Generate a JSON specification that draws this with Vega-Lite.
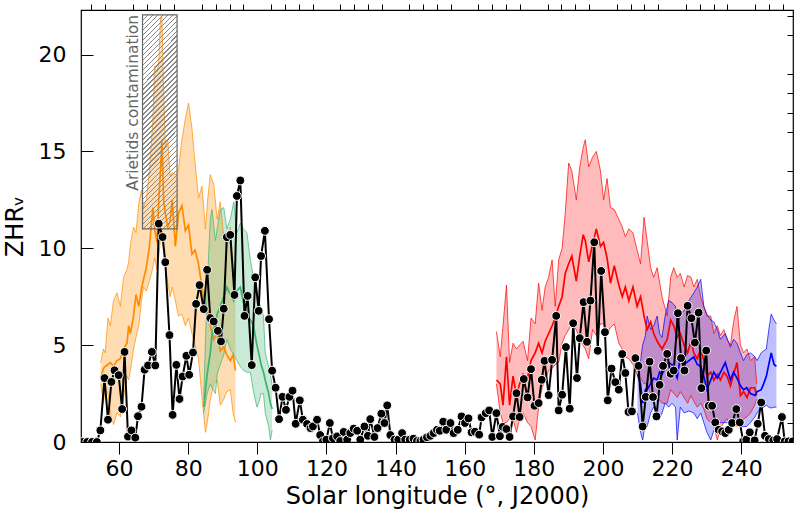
{
  "$schema": "https://vega.github.io/schema/vega-lite/v6.json",
  "width": 712,
  "height": 432,
  "autosize": "none",
  "padding": {"left": 81, "top": 10, "right": 7, "bottom": 78},
  "datasets": {
    "obs": [
      {"lon":49.4,"zhr":0},{"lon":50.8,"zhr":0},{"lon":52.2,"zhr":0},{"lon":53.6,"zhr":0},{"lon":54.6,"zhr":0.6},
      {"lon":55.8,"zhr":3.3},{"lon":56.8,"zhr":1.15},{"lon":57.8,"zhr":3.1},{"lon":58.7,"zhr":3.7},{"lon":59.9,"zhr":3.45},
      {"lon":60.9,"zhr":1.7},{"lon":61.6,"zhr":4.65},{"lon":62.6,"zhr":0.28},{"lon":63.6,"zhr":0.6},{"lon":64.7,"zhr":0.22},
      {"lon":65.5,"zhr":1.33},{"lon":66.5,"zhr":1.82},{"lon":67.4,"zhr":3.73},{"lon":68.4,"zhr":3.95},{"lon":69.5,"zhr":4.65},
      {"lon":70.5,"zhr":3.95},{"lon":71.5,"zhr":11.27},{"lon":72.6,"zhr":10.58},{"lon":73.4,"zhr":9.28},{"lon":74.6,"zhr":5.52},
      {"lon":75.5,"zhr":1.4},{"lon":76.6,"zhr":3.98},{"lon":77.5,"zhr":2.22},{"lon":78.4,"zhr":3.38},{"lon":79.5,"zhr":4.45},
      {"lon":80.3,"zhr":3.47},{"lon":81.4,"zhr":4.62},{"lon":82.3,"zhr":7.13},{"lon":83.3,"zhr":8.1},{"lon":84.5,"zhr":6.86},
      {"lon":85.5,"zhr":8.89},{"lon":86.4,"zhr":6.4},{"lon":87.4,"zhr":6.22},{"lon":88.6,"zhr":5.74},{"lon":89.5,"zhr":5.19},
      {"lon":90.3,"zhr":6.88},{"lon":91.2,"zhr":10.57},{"lon":92.2,"zhr":10.69},{"lon":93.4,"zhr":7.59},{"lon":94.1,"zhr":12.7},
      {"lon":95.1,"zhr":13.5},{"lon":96.3,"zhr":6.51},{"lon":97.2,"zhr":7.54},{"lon":98.4,"zhr":3.97},{"lon":99.4,"zhr":8.5},
      {"lon":100.4,"zhr":6.77},{"lon":101.1,"zhr":9.6},{"lon":102.2,"zhr":10.9},{"lon":103.4,"zhr":6.34},{"lon":104.3,"zhr":3.68},
      {"lon":105.3,"zhr":2.8},{"lon":106.3,"zhr":1.18},{"lon":107.3,"zhr":2.33},{"lon":108.3,"zhr":1.66},{"lon":109.3,"zhr":2.33},
      {"lon":110.2,"zhr":2.65},{"lon":111.1,"zhr":0.94},{"lon":112.3,"zhr":2.15},{"lon":113.2,"zhr":1.15},{"lon":114.4,"zhr":0.93},
      {"lon":115.4,"zhr":0.72},{"lon":116.1,"zhr":0.8},{"lon":117.3,"zhr":1.15},{"lon":118.2,"zhr":0.36},{"lon":119.0,"zhr":0.03},
      {"lon":120.0,"zhr":0.12},{"lon":121.0,"zhr":0.98},{"lon":121.9,"zhr":0.19},{"lon":123.1,"zhr":0.29},{"lon":124.0,"zhr":0.05},
      {"lon":125.0,"zhr":0.52},{"lon":126.0,"zhr":0.12},{"lon":126.9,"zhr":0.46},{"lon":127.9,"zhr":0.69},{"lon":128.9,"zhr":0.58},
      {"lon":129.8,"zhr":0.12},{"lon":131.0,"zhr":0.8},{"lon":132.0,"zhr":0.32},{"lon":132.7,"zhr":1.18},{"lon":133.9,"zhr":0.26},
      {"lon":134.8,"zhr":0.72},{"lon":135.9,"zhr":1.46},{"lon":136.8,"zhr":0.98},{"lon":137.6,"zhr":1.89},{"lon":138.5,"zhr":0.36},
      {"lon":139.7,"zhr":0.12},{"lon":140.8,"zhr":0.12},{"lon":141.9,"zhr":0.46},{"lon":142.8,"zhr":0.12},{"lon":144.1,"zhr":0.12},
      {"lon":145.2,"zhr":0.17},{"lon":146.2,"zhr":0.05},{"lon":147.2,"zhr":0.05},{"lon":148.1,"zhr":0.12},{"lon":149.1,"zhr":0.24},
      {"lon":150.1,"zhr":0.32},{"lon":151.0,"zhr":0.46},{"lon":152.0,"zhr":0.63},{"lon":152.8,"zhr":0.58},{"lon":153.8,"zhr":1.05},
      {"lon":154.7,"zhr":0.63},{"lon":155.9,"zhr":0.98},{"lon":156.8,"zhr":0.46},{"lon":158.0,"zhr":0.63},{"lon":159.1,"zhr":1.32},
      {"lon":160.1,"zhr":0.98},{"lon":161.1,"zhr":1.22},{"lon":162.0,"zhr":0.5},{"lon":163.0,"zhr":0.53},{"lon":164.2,"zhr":0.38},
      {"lon":164.9,"zhr":1.27},{"lon":166.1,"zhr":1.49},{"lon":167.1,"zhr":1.63},{"lon":168.0,"zhr":0.26},{"lon":169.2,"zhr":1.49},
      {"lon":170.2,"zhr":0.3},{"lon":171.0,"zhr":0.78},{"lon":172.1,"zhr":0.67},{"lon":173.0,"zhr":0.26},{"lon":174.0,"zhr":1.32},
      {"lon":175.0,"zhr":2.52},{"lon":175.9,"zhr":1.29},{"lon":177.1,"zhr":3.25},{"lon":178.2,"zhr":2.3},{"lon":179.2,"zhr":3.76},
      {"lon":180.2,"zhr":1.87},{"lon":181.4,"zhr":2.01},{"lon":182.3,"zhr":3.21},{"lon":183.1,"zhr":4.19},{"lon":184.3,"zhr":2.42},
      {"lon":185.3,"zhr":4.24},{"lon":186.5,"zhr":6.51},{"lon":187.2,"zhr":1.63},{"lon":188.2,"zhr":2.44},{"lon":189.3,"zhr":4.9},
      {"lon":190.4,"zhr":1.72},{"lon":191.4,"zhr":6.13},{"lon":192.5,"zhr":3.3},{"lon":193.3,"zhr":5.36},{"lon":194.4,"zhr":7.22},
      {"lon":195.4,"zhr":5.17},{"lon":196.4,"zhr":7.3},{"lon":197.5,"zhr":10.31},{"lon":198.5,"zhr":4.71},{"lon":199.5,"zhr":8.83},
      {"lon":200.6,"zhr":5.67},{"lon":201.4,"zhr":2.15},{"lon":202.5,"zhr":3.79},{"lon":203.6,"zhr":3.09},{"lon":204.6,"zhr":2.7},
      {"lon":205.6,"zhr":4.54},{"lon":206.5,"zhr":3.56},{"lon":207.4,"zhr":1.55},{"lon":208.4,"zhr":1.58},{"lon":209.4,"zhr":4.33},
      {"lon":210.3,"zhr":3.93},{"lon":211.5,"zhr":0.8},{"lon":212.4,"zhr":2.33},{"lon":213.5,"zhr":4.15},{"lon":214.5,"zhr":2.32},
      {"lon":215.5,"zhr":1.32},{"lon":216.4,"zhr":2.95},{"lon":217.4,"zhr":3.93},{"lon":218.6,"zhr":4.55},{"lon":219.6,"zhr":3.52},
      {"lon":220.5,"zhr":3.69},{"lon":221.7,"zhr":6.65},{"lon":222.6,"zhr":4.33},{"lon":223.6,"zhr":3.69},{"lon":224.5,"zhr":7.03},
      {"lon":225.6,"zhr":6.39},{"lon":226.6,"zhr":5.13},{"lon":227.7,"zhr":6.68},{"lon":228.5,"zhr":2.78},{"lon":229.9,"zhr":4.72},
      {"lon":230.6,"zhr":1.87},{"lon":231.6,"zhr":1.87},{"lon":232.5,"zhr":1.01},{"lon":233.5,"zhr":0.63},{"lon":234.5,"zhr":0.55},
      {"lon":235.4,"zhr":0.46},{"lon":236.4,"zhr":0.63},{"lon":237.4,"zhr":0.98},{"lon":238.6,"zhr":1.7},{"lon":239.6,"zhr":1.01},
      {"lon":240.6,"zhr":0.03},{"lon":241.5,"zhr":0.12},{"lon":242.5,"zhr":0.5},{"lon":243.9,"zhr":0.08},{"lon":244.8,"zhr":0.94},
      {"lon":245.8,"zhr":2.04},{"lon":246.9,"zhr":0.32},{"lon":248.0,"zhr":0.15},{"lon":249.3,"zhr":0.08},{"lon":250.4,"zhr":0.15},
      {"lon":251.8,"zhr":1.29},{"lon":252.6,"zhr":0.03},{"lon":253.7,"zhr":0.03},{"lon":254.9,"zhr":0.03}
    ],
    "bands": [
      {"s":"orange","lon":54.7,"zhr":3.3,"lo":3.0,"hi":4.1},{"s":"orange","lon":55.5,"zhr":3.8,"lo":2.0,"hi":4.8},
      {"s":"orange","lon":56.0,"zhr":3.9,"lo":2.8,"hi":4.6},{"s":"orange","lon":56.8,"zhr":4.0,"lo":2.5,"hi":6.4},
      {"s":"orange","lon":57.5,"zhr":4.1,"lo":1.5,"hi":6.0},{"s":"orange","lon":58.4,"zhr":3.9,"lo":0.9,"hi":7.3},
      {"s":"orange","lon":59.4,"zhr":4.2,"lo":1.5,"hi":7.7},{"s":"orange","lon":60.4,"zhr":4.3,"lo":1.3,"hi":7.0},
      {"s":"orange","lon":61.3,"zhr":4.8,"lo":2.3,"hi":8.5},{"s":"orange","lon":62.3,"zhr":5.1,"lo":3.4,"hi":8.9},
      {"s":"orange","lon":62.8,"zhr":6.0,"lo":3.2,"hi":9.3},{"s":"orange","lon":63.3,"zhr":5.6,"lo":3.7,"hi":10.2},
      {"s":"orange","lon":64.2,"zhr":6.5,"lo":4.8,"hi":11.1},{"s":"orange","lon":64.9,"zhr":7.6,"lo":5.4,"hi":10.8},
      {"s":"orange","lon":65.7,"zhr":7.0,"lo":6.0,"hi":12.3},{"s":"orange","lon":66.5,"zhr":7.9,"lo":7.3,"hi":13.0},
      {"s":"orange","lon":67.1,"zhr":8.4,"lo":8.0,"hi":12.1},{"s":"orange","lon":67.9,"zhr":9.0,"lo":7.8,"hi":12.5},
      {"s":"orange","lon":68.8,"zhr":10.1,"lo":8.3,"hi":14.0},{"s":"orange","lon":69.8,"zhr":12.1,"lo":9.0,"hi":16.6},
      {"s":"orange","lon":70.3,"zhr":11.0,"lo":9.5,"hi":19.4},{"s":"orange","lon":71.0,"zhr":10.3,"lo":8.9,"hi":19.1},
      {"s":"orange","lon":71.5,"zhr":12.5,"lo":9.6,"hi":19.6},{"s":"orange","lon":72.0,"zhr":14.0,"lo":10.5,"hi":21.9},
      {"s":"orange","lon":72.4,"zhr":15.6,"lo":11.0,"hi":22.0},{"s":"orange","lon":72.9,"zhr":12.5,"lo":9.8,"hi":18.2},
      {"s":"orange","lon":73.4,"zhr":11.8,"lo":9.0,"hi":15.2},{"s":"orange","lon":74.1,"zhr":11.1,"lo":8.2,"hi":15.6},
      {"s":"orange","lon":74.8,"zhr":11.4,"lo":7.5,"hi":13.7},{"s":"orange","lon":75.4,"zhr":12.5,"lo":8.0,"hi":13.9},
      {"s":"orange","lon":76.3,"zhr":10.1,"lo":7.3,"hi":13.8},{"s":"orange","lon":77.2,"zhr":11.8,"lo":6.5,"hi":14.0},
      {"s":"orange","lon":78.2,"zhr":12.2,"lo":6.6,"hi":15.6},{"s":"orange","lon":79.2,"zhr":10.9,"lo":6.0,"hi":16.7},
      {"s":"orange","lon":80.1,"zhr":11.2,"lo":6.4,"hi":17.5},{"s":"orange","lon":81.1,"zhr":9.7,"lo":5.6,"hi":16.2},
      {"s":"orange","lon":82.0,"zhr":9.9,"lo":5.0,"hi":14.4},{"s":"orange","lon":83.0,"zhr":9.2,"lo":4.3,"hi":12.6},
      {"s":"orange","lon":84.0,"zhr":8.0,"lo":2.3,"hi":13.2},{"s":"orange","lon":85.0,"zhr":7.0,"lo":0.5,"hi":11.0},
      {"s":"orange","lon":85.7,"zhr":6.7,"lo":1.2,"hi":12.6},{"s":"orange","lon":86.4,"zhr":6.0,"lo":2.2,"hi":13.8},
      {"s":"orange","lon":87.4,"zhr":5.3,"lo":3.0,"hi":13.3},{"s":"orange","lon":88.4,"zhr":5.6,"lo":3.2,"hi":11.5},
      {"s":"orange","lon":89.3,"zhr":4.7,"lo":1.9,"hi":12.4},{"s":"orange","lon":90.3,"zhr":4.9,"lo":2.2,"hi":10.6},
      {"s":"orange","lon":91.2,"zhr":4.5,"lo":2.6,"hi":10.1},{"s":"orange","lon":92.2,"zhr":4.2,"lo":2.7,"hi":11.1},
      {"s":"orange","lon":93.0,"zhr":4.5,"lo":1.5,"hi":9.0},{"s":"orange","lon":93.7,"zhr":3.7,"lo":1.0,"hi":8.0},
      {"s":"green","lon":84.5,"zhr":1.8,"lo":1.5,"hi":2.2},{"s":"green","lon":85.5,"zhr":3.5,"lo":2.5,"hi":8.0},
      {"s":"green","lon":86.4,"zhr":4.6,"lo":3.0,"hi":11.5},{"s":"green","lon":86.9,"zhr":5.5,"lo":2.8,"hi":12.0},
      {"s":"green","lon":87.9,"zhr":6.2,"lo":2.5,"hi":10.4},{"s":"green","lon":88.4,"zhr":6.6,"lo":3.5,"hi":11.0},
      {"s":"green","lon":89.3,"zhr":7.0,"lo":4.0,"hi":12.0},{"s":"green","lon":90.3,"zhr":7.5,"lo":4.5,"hi":12.1},
      {"s":"green","lon":91.2,"zhr":8.0,"lo":5.3,"hi":11.0},{"s":"green","lon":92.2,"zhr":7.6,"lo":4.8,"hi":11.5},
      {"s":"green","lon":93.2,"zhr":7.3,"lo":4.5,"hi":12.4},{"s":"green","lon":94.1,"zhr":7.8,"lo":4.2,"hi":10.8},
      {"s":"green","lon":95.1,"zhr":8.0,"lo":3.9,"hi":11.3},{"s":"green","lon":96.0,"zhr":7.2,"lo":3.7,"hi":11.0},
      {"s":"green","lon":97.0,"zhr":6.6,"lo":3.6,"hi":10.8},{"s":"green","lon":98.0,"zhr":6.3,"lo":3.6,"hi":9.4},
      {"s":"green","lon":98.9,"zhr":6.0,"lo":2.6,"hi":8.5},{"s":"green","lon":99.9,"zhr":5.0,"lo":1.8,"hi":7.8},
      {"s":"green","lon":100.4,"zhr":4.6,"lo":2.0,"hi":7.3},{"s":"green","lon":101.1,"zhr":4.0,"lo":2.5,"hi":6.9},
      {"s":"green","lon":101.8,"zhr":3.6,"lo":2.5,"hi":6.5},{"s":"green","lon":102.3,"zhr":3.2,"lo":1.5,"hi":4.6},
      {"s":"green","lon":103.3,"zhr":2.5,"lo":0.8,"hi":3.9},{"s":"green","lon":103.8,"zhr":2.0,"lo":0.1,"hi":3.5},
      {"s":"green","lon":104.3,"zhr":1.7,"lo":0.6,"hi":2.9},
      {"s":"red","lon":169.2,"zhr":3.2,"lo":3.0,"hi":5.7},{"s":"red","lon":170.3,"zhr":3.0,"lo":1.5,"hi":4.4},
      {"s":"red","lon":171.1,"zhr":1.9,"lo":1.0,"hi":6.0},{"s":"red","lon":172.1,"zhr":4.4,"lo":1.0,"hi":8.1},
      {"s":"red","lon":173.0,"zhr":1.9,"lo":1.2,"hi":4.1},{"s":"red","lon":174.0,"zhr":3.4,"lo":1.2,"hi":5.1},
      {"s":"red","lon":175.0,"zhr":2.4,"lo":0.5,"hi":4.8},{"s":"red","lon":175.9,"zhr":3.0,"lo":1.2,"hi":5.0},
      {"s":"red","lon":176.9,"zhr":3.5,"lo":1.5,"hi":5.2},{"s":"red","lon":178.2,"zhr":3.3,"lo":1.0,"hi":4.2},
      {"s":"red","lon":179.2,"zhr":4.2,"lo":0.8,"hi":6.4},{"s":"red","lon":180.4,"zhr":4.6,"lo":0.1,"hi":6.1},
      {"s":"red","lon":181.4,"zhr":5.1,"lo":1.8,"hi":8.2},{"s":"red","lon":182.4,"zhr":4.6,"lo":2.8,"hi":6.8},
      {"s":"red","lon":183.3,"zhr":5.2,"lo":3.2,"hi":8.0},{"s":"red","lon":184.3,"zhr":5.6,"lo":3.7,"hi":8.5},
      {"s":"red","lon":185.3,"zhr":6.0,"lo":3.8,"hi":9.4},{"s":"red","lon":186.2,"zhr":6.4,"lo":4.0,"hi":7.0},
      {"s":"red","lon":187.2,"zhr":7.0,"lo":4.1,"hi":9.4},{"s":"red","lon":188.2,"zhr":7.5,"lo":5.1,"hi":10.0},
      {"s":"red","lon":189.1,"zhr":8.7,"lo":5.5,"hi":11.8},{"s":"red","lon":190.1,"zhr":9.2,"lo":5.8,"hi":14.4},
      {"s":"red","lon":191.0,"zhr":9.6,"lo":6.1,"hi":14.0},{"s":"red","lon":192.3,"zhr":8.3,"lo":5.8,"hi":12.5},
      {"s":"red","lon":193.3,"zhr":9.6,"lo":5.3,"hi":14.2},{"s":"red","lon":194.3,"zhr":10.7,"lo":5.0,"hi":15.2},
      {"s":"red","lon":194.9,"zhr":10.4,"lo":4.8,"hi":15.6},{"s":"red","lon":195.9,"zhr":9.3,"lo":4.3,"hi":14.2},
      {"s":"red","lon":197.0,"zhr":10.2,"lo":5.8,"hi":14.7},{"s":"red","lon":198.1,"zhr":11.0,"lo":5.5,"hi":15.0},
      {"s":"red","lon":199.3,"zhr":10.1,"lo":6.1,"hi":14.0},{"s":"red","lon":200.2,"zhr":10.3,"lo":6.1,"hi":12.5},
      {"s":"red","lon":201.2,"zhr":9.5,"lo":5.6,"hi":13.6},{"s":"red","lon":202.2,"zhr":8.2,"lo":5.9,"hi":12.1},
      {"s":"red","lon":203.3,"zhr":9.1,"lo":6.1,"hi":12.0},{"s":"red","lon":204.6,"zhr":8.1,"lo":5.1,"hi":11.5},
      {"s":"red","lon":205.6,"zhr":7.5,"lo":4.8,"hi":11.1},{"s":"red","lon":206.5,"zhr":8.0,"lo":4.4,"hi":10.6},
      {"s":"red","lon":207.5,"zhr":7.3,"lo":4.3,"hi":11.0},{"s":"red","lon":208.7,"zhr":8.0,"lo":4.0,"hi":10.8},
      {"s":"red","lon":209.9,"zhr":7.0,"lo":3.5,"hi":9.9},{"s":"red","lon":210.9,"zhr":7.5,"lo":3.3,"hi":9.2},
      {"s":"red","lon":211.9,"zhr":6.5,"lo":3.0,"hi":11.6},{"s":"red","lon":212.8,"zhr":5.8,"lo":3.0,"hi":10.4},
      {"s":"red","lon":213.8,"zhr":6.2,"lo":2.5,"hi":9.0},{"s":"red","lon":214.7,"zhr":5.6,"lo":2.5,"hi":8.5},
      {"s":"red","lon":215.7,"zhr":5.2,"lo":2.3,"hi":9.0},{"s":"red","lon":217.1,"zhr":4.8,"lo":2.0,"hi":7.5},
      {"s":"red","lon":218.6,"zhr":5.3,"lo":2.0,"hi":6.5},{"s":"red","lon":219.6,"zhr":6.3,"lo":2.7,"hi":8.5},
      {"s":"red","lon":220.5,"zhr":6.0,"lo":2.5,"hi":9.0},{"s":"red","lon":221.5,"zhr":5.4,"lo":2.3,"hi":8.5},
      {"s":"red","lon":222.4,"zhr":5.6,"lo":2.6,"hi":8.7},{"s":"red","lon":223.5,"zhr":5.0,"lo":2.3,"hi":8.0},
      {"s":"red","lon":224.5,"zhr":4.6,"lo":2.0,"hi":8.6},{"s":"red","lon":225.5,"zhr":5.2,"lo":2.4,"hi":8.5},
      {"s":"red","lon":226.3,"zhr":4.6,"lo":2.1,"hi":8.0},{"s":"red","lon":227.3,"zhr":4.3,"lo":1.8,"hi":8.4},
      {"s":"red","lon":228.3,"zhr":4.8,"lo":2.0,"hi":7.5},{"s":"red","lon":229.2,"zhr":4.2,"lo":1.7,"hi":7.0},
      {"s":"red","lon":230.1,"zhr":3.4,"lo":1.2,"hi":6.5},{"s":"red","lon":231.2,"zhr":3.6,"lo":1.0,"hi":6.5},
      {"s":"red","lon":232.1,"zhr":3.2,"lo":0.8,"hi":5.6},{"s":"red","lon":233.1,"zhr":3.5,"lo":0.1,"hi":6.0},
      {"s":"red","lon":234.0,"zhr":3.2,"lo":0.7,"hi":5.5},{"s":"red","lon":235.0,"zhr":3.6,"lo":1.0,"hi":5.8},
      {"s":"red","lon":235.9,"zhr":3.4,"lo":1.2,"hi":5.3},{"s":"red","lon":236.9,"zhr":2.9,"lo":0.9,"hi":5.0},
      {"s":"red","lon":237.8,"zhr":3.5,"lo":1.0,"hi":6.2},{"s":"red","lon":238.8,"zhr":4.1,"lo":0.8,"hi":7.0},
      {"s":"red","lon":239.8,"zhr":2.4,"lo":1.0,"hi":5.0},{"s":"red","lon":240.7,"zhr":2.6,"lo":1.2,"hi":4.6},
      {"s":"red","lon":241.7,"zhr":2.3,"lo":1.3,"hi":4.8},{"s":"red","lon":242.7,"zhr":2.8,"lo":1.5,"hi":4.2},
      {"s":"red","lon":243.9,"zhr":2.8,"lo":1.9,"hi":4.4},{"s":"red","lon":244.5,"zhr":2.4,"lo":2.2,"hi":3.0},
      {"s":"blue","lon":210.0,"zhr":3.5,"lo":1.5,"hi":4.0},{"s":"blue","lon":210.9,"zhr":3.0,"lo":0.5,"hi":4.2},
      {"s":"blue","lon":211.5,"zhr":2.0,"lo":0.1,"hi":5.0},{"s":"blue","lon":212.3,"zhr":2.7,"lo":1.0,"hi":5.5},
      {"s":"blue","lon":212.8,"zhr":2.7,"lo":0.8,"hi":6.5},{"s":"blue","lon":213.8,"zhr":3.0,"lo":1.5,"hi":5.8},
      {"s":"blue","lon":214.7,"zhr":3.3,"lo":1.8,"hi":6.0},{"s":"blue","lon":215.7,"zhr":3.2,"lo":1.5,"hi":6.5},
      {"s":"blue","lon":216.4,"zhr":3.6,"lo":1.2,"hi":5.6},{"s":"blue","lon":217.1,"zhr":3.5,"lo":1.5,"hi":5.4},
      {"s":"blue","lon":218.0,"zhr":3.8,"lo":2.0,"hi":6.5},{"s":"blue","lon":219.0,"zhr":4.1,"lo":1.8,"hi":7.3},
      {"s":"blue","lon":220.0,"zhr":4.0,"lo":2.0,"hi":7.2},{"s":"blue","lon":221.0,"zhr":3.5,"lo":1.8,"hi":7.0},
      {"s":"blue","lon":221.5,"zhr":3.3,"lo":0.1,"hi":6.0},{"s":"blue","lon":222.4,"zhr":4.4,"lo":1.8,"hi":6.5},
      {"s":"blue","lon":223.5,"zhr":4.0,"lo":1.5,"hi":6.8},{"s":"blue","lon":224.9,"zhr":4.2,"lo":1.6,"hi":7.3},
      {"s":"blue","lon":226.3,"zhr":4.4,"lo":1.5,"hi":7.7},{"s":"blue","lon":227.3,"zhr":4.0,"lo":1.2,"hi":8.0},
      {"s":"blue","lon":228.3,"zhr":3.9,"lo":1.5,"hi":8.4},{"s":"blue","lon":229.2,"zhr":3.4,"lo":1.0,"hi":7.0},
      {"s":"blue","lon":230.1,"zhr":2.7,"lo":0.5,"hi":6.6},{"s":"blue","lon":231.2,"zhr":3.2,"lo":0.1,"hi":6.3},
      {"s":"blue","lon":232.1,"zhr":3.6,"lo":0.6,"hi":6.2},{"s":"blue","lon":233.1,"zhr":3.3,"lo":0.8,"hi":5.8},
      {"s":"blue","lon":234.0,"zhr":3.6,"lo":1.0,"hi":5.3},{"s":"blue","lon":235.4,"zhr":4.1,"lo":1.0,"hi":5.6},
      {"s":"blue","lon":236.9,"zhr":3.2,"lo":1.0,"hi":4.9},{"s":"blue","lon":237.8,"zhr":3.6,"lo":0.8,"hi":5.3},
      {"s":"blue","lon":238.8,"zhr":3.3,"lo":0.9,"hi":5.1},{"s":"blue","lon":239.8,"zhr":2.9,"lo":0.8,"hi":4.6},
      {"s":"blue","lon":240.7,"zhr":2.7,"lo":0.8,"hi":4.2},{"s":"blue","lon":241.6,"zhr":2.8,"lo":0.8,"hi":4.5},
      {"s":"blue","lon":242.7,"zhr":2.5,"lo":1.0,"hi":4.6},{"s":"blue","lon":244.0,"zhr":2.4,"lo":1.3,"hi":4.4},
      {"s":"blue","lon":244.6,"zhr":2.6,"lo":1.5,"hi":4.2},{"s":"blue","lon":245.8,"zhr":2.7,"lo":1.8,"hi":4.6},
      {"s":"blue","lon":246.5,"zhr":3.0,"lo":1.8,"hi":4.7},{"s":"blue","lon":247.3,"zhr":3.4,"lo":1.9,"hi":4.8},
      {"s":"blue","lon":248.0,"zhr":4.0,"lo":1.8,"hi":5.8},{"s":"blue","lon":248.7,"zhr":4.6,"lo":1.75,"hi":6.6},
      {"s":"blue","lon":249.5,"zhr":4.0,"lo":1.8,"hi":6.3},{"s":"blue","lon":250.2,"zhr":3.9,"lo":1.8,"hi":6.1}
    ]
  },
  "resolve": {"axis": {"x": "independent", "y": "independent"}},
  "layer": [
    {
      "data": {"name": "bands"},
      "mark": {"type": "area", "clip": true},
      "encoding": {
        "x": {
          "field": "lon", "type": "quantitative",
          "scale": {"domain": [49, 255], "nice": false, "zero": false},
          "axis": {
            "values": [60, 80, 100, 120, 140, 160, 180, 200, 220, 240],
            "tickSize": 12, "labelFontSize": 22, "labelPadding": 4,
            "title": "Solar longitude (°, J2000)", "titleFontSize": 24, "titlePadding": 5
          }
        },
        "y": {
          "field": "lo", "type": "quantitative",
          "scale": {"domain": [0, 22.3], "nice": false, "zero": false},
          "axis": {
            "values": [0, 5, 10, 15, 20],
            "tickSize": -12, "labelFontSize": 22, "labelPadding": 27,
            "title": "ZHRᵥ", "titleFontSize": 24, "titlePadding": 11
          }
        },
        "y2": {"field": "hi"},
        "color": {
          "field": "s", "type": "nominal",
          "scale": {"domain": ["orange", "green", "red", "blue"], "range": ["#ff8c00", "#3cb371", "#ff0000", "#0000ff"]},
          "legend": null
        },
        "fillOpacity": {
          "field": "s", "type": "nominal",
          "scale": {"domain": ["orange", "green", "red", "blue"], "range": [0.3, 0.25, 0.2, 0.2]},
          "legend": null
        }
      }
    },
    {
      "data": {"name": "bands"},
      "transform": [{"fold": ["lo", "hi"], "as": ["edge", "v"]}],
      "mark": {"type": "line", "strokeWidth": 0.7, "clip": true},
      "encoding": {
        "x": {
          "field": "lon", "type": "quantitative",
          "axis": {
            "values": [52, 56, 64, 68, 72, 76, 84, 88, 92, 96, 104, 108, 112, 116, 124, 128, 132, 136, 144, 148, 152, 156, 164, 168, 172, 176, 184, 188, 192, 196, 204, 208, 212, 216, 224, 228, 232, 236, 244, 248, 252],
            "tickSize": 6, "labels": false, "title": null
          }
        },
        "y": {
          "field": "v", "type": "quantitative",
          "axis": {
            "values": [1, 2, 3, 4, 6, 7, 8, 9, 11, 12, 13, 14, 16, 17, 18, 19, 21, 22],
            "tickSize": -6, "labels": false, "title": null
          }
        },
        "color": {"field": "s", "type": "nominal", "legend": null},
        "detail": {"field": "edge", "type": "nominal"}
      }
    },
    {
      "data": {"name": "bands"},
      "mark": {"type": "line", "strokeWidth": 1.7, "clip": true},
      "encoding": {
        "x": {"field": "lon", "type": "quantitative", "axis": null},
        "y": {"field": "zhr", "type": "quantitative", "axis": null},
        "color": {"field": "s", "type": "nominal", "legend": null}
      }
    },
    {
      "data": {"values": [{"a": 66.8, "b": 76.8, "lo": 11, "hi": 22.05}]},
      "mark": {
        "type": "rect", "stroke": "#666666", "strokeWidth": 1.2,
        "fill": {
          "gradient": "linear", "x1": 0, "y1": 0, "x2": 0.1834, "y2": 1.1323,
          "stops": [
            {"offset":0,"color":"#8a8a8a"},{"offset":0.006,"color":"#8a8a8a"},{"offset":0.006,"color":"transparent"},{"offset":0.02,"color":"transparent"},
            {"offset":0.02,"color":"#8a8a8a"},{"offset":0.026,"color":"#8a8a8a"},{"offset":0.026,"color":"transparent"},{"offset":0.04,"color":"transparent"},
            {"offset":0.04,"color":"#8a8a8a"},{"offset":0.046,"color":"#8a8a8a"},{"offset":0.046,"color":"transparent"},{"offset":0.06,"color":"transparent"},
            {"offset":0.06,"color":"#8a8a8a"},{"offset":0.066,"color":"#8a8a8a"},{"offset":0.066,"color":"transparent"},{"offset":0.08,"color":"transparent"},
            {"offset":0.08,"color":"#8a8a8a"},{"offset":0.086,"color":"#8a8a8a"},{"offset":0.086,"color":"transparent"},{"offset":0.1,"color":"transparent"},
            {"offset":0.1,"color":"#8a8a8a"},{"offset":0.106,"color":"#8a8a8a"},{"offset":0.106,"color":"transparent"},{"offset":0.12,"color":"transparent"},
            {"offset":0.12,"color":"#8a8a8a"},{"offset":0.126,"color":"#8a8a8a"},{"offset":0.126,"color":"transparent"},{"offset":0.14,"color":"transparent"},
            {"offset":0.14,"color":"#8a8a8a"},{"offset":0.146,"color":"#8a8a8a"},{"offset":0.146,"color":"transparent"},{"offset":0.16,"color":"transparent"},
            {"offset":0.16,"color":"#8a8a8a"},{"offset":0.166,"color":"#8a8a8a"},{"offset":0.166,"color":"transparent"},{"offset":0.18,"color":"transparent"},
            {"offset":0.18,"color":"#8a8a8a"},{"offset":0.186,"color":"#8a8a8a"},{"offset":0.186,"color":"transparent"},{"offset":0.2,"color":"transparent"},
            {"offset":0.2,"color":"#8a8a8a"},{"offset":0.206,"color":"#8a8a8a"},{"offset":0.206,"color":"transparent"},{"offset":0.22,"color":"transparent"},
            {"offset":0.22,"color":"#8a8a8a"},{"offset":0.226,"color":"#8a8a8a"},{"offset":0.226,"color":"transparent"},{"offset":0.24,"color":"transparent"},
            {"offset":0.24,"color":"#8a8a8a"},{"offset":0.246,"color":"#8a8a8a"},{"offset":0.246,"color":"transparent"},{"offset":0.26,"color":"transparent"},
            {"offset":0.26,"color":"#8a8a8a"},{"offset":0.266,"color":"#8a8a8a"},{"offset":0.266,"color":"transparent"},{"offset":0.28,"color":"transparent"},
            {"offset":0.28,"color":"#8a8a8a"},{"offset":0.286,"color":"#8a8a8a"},{"offset":0.286,"color":"transparent"},{"offset":0.3,"color":"transparent"},
            {"offset":0.3,"color":"#8a8a8a"},{"offset":0.306,"color":"#8a8a8a"},{"offset":0.306,"color":"transparent"},{"offset":0.32,"color":"transparent"},
            {"offset":0.32,"color":"#8a8a8a"},{"offset":0.326,"color":"#8a8a8a"},{"offset":0.326,"color":"transparent"},{"offset":0.34,"color":"transparent"},
            {"offset":0.34,"color":"#8a8a8a"},{"offset":0.346,"color":"#8a8a8a"},{"offset":0.346,"color":"transparent"},{"offset":0.36,"color":"transparent"},
            {"offset":0.36,"color":"#8a8a8a"},{"offset":0.366,"color":"#8a8a8a"},{"offset":0.366,"color":"transparent"},{"offset":0.38,"color":"transparent"},
            {"offset":0.38,"color":"#8a8a8a"},{"offset":0.386,"color":"#8a8a8a"},{"offset":0.386,"color":"transparent"},{"offset":0.4,"color":"transparent"},
            {"offset":0.4,"color":"#8a8a8a"},{"offset":0.406,"color":"#8a8a8a"},{"offset":0.406,"color":"transparent"},{"offset":0.42,"color":"transparent"},
            {"offset":0.42,"color":"#8a8a8a"},{"offset":0.426,"color":"#8a8a8a"},{"offset":0.426,"color":"transparent"},{"offset":0.44,"color":"transparent"},
            {"offset":0.44,"color":"#8a8a8a"},{"offset":0.446,"color":"#8a8a8a"},{"offset":0.446,"color":"transparent"},{"offset":0.46,"color":"transparent"},
            {"offset":0.46,"color":"#8a8a8a"},{"offset":0.466,"color":"#8a8a8a"},{"offset":0.466,"color":"transparent"},{"offset":0.48,"color":"transparent"},
            {"offset":0.48,"color":"#8a8a8a"},{"offset":0.486,"color":"#8a8a8a"},{"offset":0.486,"color":"transparent"},{"offset":0.5,"color":"transparent"},
            {"offset":0.5,"color":"#8a8a8a"},{"offset":0.506,"color":"#8a8a8a"},{"offset":0.506,"color":"transparent"},{"offset":0.52,"color":"transparent"},
            {"offset":0.52,"color":"#8a8a8a"},{"offset":0.526,"color":"#8a8a8a"},{"offset":0.526,"color":"transparent"},{"offset":0.54,"color":"transparent"},
            {"offset":0.54,"color":"#8a8a8a"},{"offset":0.546,"color":"#8a8a8a"},{"offset":0.546,"color":"transparent"},{"offset":0.56,"color":"transparent"},
            {"offset":0.56,"color":"#8a8a8a"},{"offset":0.566,"color":"#8a8a8a"},{"offset":0.566,"color":"transparent"},{"offset":0.58,"color":"transparent"},
            {"offset":0.58,"color":"#8a8a8a"},{"offset":0.586,"color":"#8a8a8a"},{"offset":0.586,"color":"transparent"},{"offset":0.6,"color":"transparent"},
            {"offset":0.6,"color":"#8a8a8a"},{"offset":0.606,"color":"#8a8a8a"},{"offset":0.606,"color":"transparent"},{"offset":0.62,"color":"transparent"},
            {"offset":0.62,"color":"#8a8a8a"},{"offset":0.626,"color":"#8a8a8a"},{"offset":0.626,"color":"transparent"},{"offset":0.64,"color":"transparent"},
            {"offset":0.64,"color":"#8a8a8a"},{"offset":0.646,"color":"#8a8a8a"},{"offset":0.646,"color":"transparent"},{"offset":0.66,"color":"transparent"},
            {"offset":0.66,"color":"#8a8a8a"},{"offset":0.666,"color":"#8a8a8a"},{"offset":0.666,"color":"transparent"},{"offset":0.68,"color":"transparent"},
            {"offset":0.68,"color":"#8a8a8a"},{"offset":0.686,"color":"#8a8a8a"},{"offset":0.686,"color":"transparent"},{"offset":0.7,"color":"transparent"},
            {"offset":0.7,"color":"#8a8a8a"},{"offset":0.706,"color":"#8a8a8a"},{"offset":0.706,"color":"transparent"},{"offset":0.72,"color":"transparent"},
            {"offset":0.72,"color":"#8a8a8a"},{"offset":0.726,"color":"#8a8a8a"},{"offset":0.726,"color":"transparent"},{"offset":0.74,"color":"transparent"},
            {"offset":0.74,"color":"#8a8a8a"},{"offset":0.746,"color":"#8a8a8a"},{"offset":0.746,"color":"transparent"},{"offset":0.76,"color":"transparent"},
            {"offset":0.76,"color":"#8a8a8a"},{"offset":0.766,"color":"#8a8a8a"},{"offset":0.766,"color":"transparent"},{"offset":0.78,"color":"transparent"},
            {"offset":0.78,"color":"#8a8a8a"},{"offset":0.786,"color":"#8a8a8a"},{"offset":0.786,"color":"transparent"},{"offset":0.8,"color":"transparent"},
            {"offset":0.8,"color":"#8a8a8a"},{"offset":0.806,"color":"#8a8a8a"},{"offset":0.806,"color":"transparent"},{"offset":0.82,"color":"transparent"},
            {"offset":0.82,"color":"#8a8a8a"},{"offset":0.826,"color":"#8a8a8a"},{"offset":0.826,"color":"transparent"},{"offset":0.84,"color":"transparent"},
            {"offset":0.84,"color":"#8a8a8a"},{"offset":0.846,"color":"#8a8a8a"},{"offset":0.846,"color":"transparent"},{"offset":0.86,"color":"transparent"},
            {"offset":0.86,"color":"#8a8a8a"},{"offset":0.866,"color":"#8a8a8a"},{"offset":0.866,"color":"transparent"},{"offset":0.88,"color":"transparent"},
            {"offset":0.88,"color":"#8a8a8a"},{"offset":0.886,"color":"#8a8a8a"},{"offset":0.886,"color":"transparent"},{"offset":0.9,"color":"transparent"},
            {"offset":0.9,"color":"#8a8a8a"},{"offset":0.906,"color":"#8a8a8a"},{"offset":0.906,"color":"transparent"},{"offset":0.92,"color":"transparent"},
            {"offset":0.92,"color":"#8a8a8a"},{"offset":0.926,"color":"#8a8a8a"},{"offset":0.926,"color":"transparent"},{"offset":0.94,"color":"transparent"},
            {"offset":0.94,"color":"#8a8a8a"},{"offset":0.946,"color":"#8a8a8a"},{"offset":0.946,"color":"transparent"},{"offset":0.96,"color":"transparent"},
            {"offset":0.96,"color":"#8a8a8a"},{"offset":0.966,"color":"#8a8a8a"},{"offset":0.966,"color":"transparent"},{"offset":0.98,"color":"transparent"},
            {"offset":0.98,"color":"#8a8a8a"},{"offset":0.986,"color":"#8a8a8a"},{"offset":0.986,"color":"transparent"},{"offset":1,"color":"transparent"}
          ]
        }
      },
      "encoding": {
        "x": {"field": "a", "type": "quantitative", "axis": null},
        "x2": {"field": "b"},
        "y": {"field": "lo", "type": "quantitative", "axis": null},
        "y2": {"field": "hi"}
      }
    },
    {
      "data": {"values": [{"x": 66.3, "y": 22.05, "label": "Arietids contamination"}]},
      "mark": {"type": "text", "angle": 270, "align": "right", "baseline": "bottom", "fontSize": 15.5, "color": "#666666"},
      "encoding": {
        "x": {"field": "x", "type": "quantitative", "axis": null},
        "y": {"field": "y", "type": "quantitative", "axis": null},
        "text": {"field": "label"}
      }
    },
    {
      "data": {"name": "obs"},
      "mark": {"type": "line", "color": "black", "strokeWidth": 2, "clip": true},
      "encoding": {
        "x": {"field": "lon", "type": "quantitative", "axis": null},
        "y": {"field": "zhr", "type": "quantitative", "axis": null}
      }
    },
    {
      "data": {"name": "obs"},
      "mark": {"type": "circle", "fill": "black", "stroke": "white", "strokeWidth": 1, "size": 78, "opacity": 1, "clip": true},
      "encoding": {
        "x": {"field": "lon", "type": "quantitative", "axis": null},
        "y": {"field": "zhr", "type": "quantitative", "axis": null}
      }
    }
  ],
  "config": {
    "font": "DejaVu Sans",
    "view": {"stroke": "black", "strokeWidth": 1.2},
    "axis": {"grid": false, "domain": false, "tickColor": "black", "tickWidth": 1, "labelColor": "black", "titleColor": "black", "titleFontWeight": "normal"}
  }
}
